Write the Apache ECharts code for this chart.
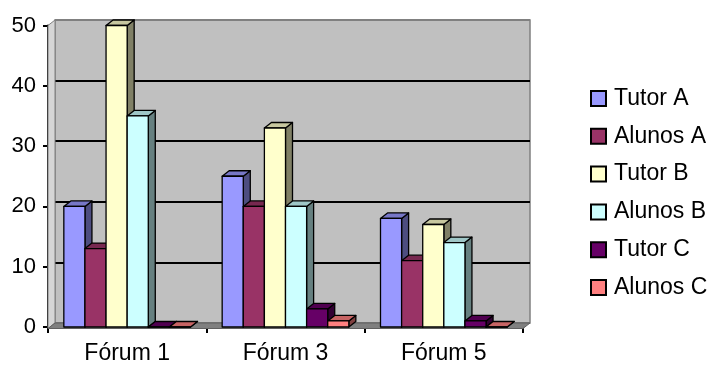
<!DOCTYPE html>
<html>
<head>
<meta charset="utf-8">
<script src="https://cdn.jsdelivr.net/npm/echarts@6/dist/echarts.min.js"></script>
<style>
html,body{margin:0;padding:0;background:#fff;}
#chart{width:712px;height:365px;}
</style>
</head>
<body>
<div id="chart"></div>
<script>
// Forum participation counts
var categories = ['Fórum 1', 'Fórum 3', 'Fórum 5'];
var seriesNames = ['Tutor A', 'Alunos A', 'Tutor B', 'Alunos B', 'Tutor C', 'Alunos C'];
var tutorA = [20, 25, 18];
var alunosA = [13, 20, 11];
var tutorB = [50, 33, 17];
var alunosB = [35, 20, 14];
var tutorC = [0, 3, 1];
var alunosC = [0, 1, 0];
var yTicks = [0, 10, 20, 30, 40, 50];

var seriesValues = [tutorA, alunosA, tutorB, alunosB, tutorC, alunosC];
var colors = ['#9999FF', '#993366', '#FFFFCC', '#CCFFFF', '#660066', '#FF8080'];

var FONT = 'Liberation Sans, Arial, sans-serif';
var DX = 7, DY = 5.5;            // depth offset of the 3D effect
var GROUP_RATIO = 0.8;           // share of a category taken by the cluster

function shade(hex, f) {
  var n = parseInt(hex.slice(1), 16);
  var r = Math.round(((n >> 16) & 255) * f);
  var g = Math.round(((n >> 8) & 255) * f);
  var b = Math.round((n & 255) * f);
  return 'rgb(' + r + ',' + g + ',' + b + ')';
}

function makeRender(sIdx, color) {
  return function (params, api) {
    var cat = api.value(0);
    var top = api.coord([cat, api.value(1)]);
    var base = api.coord([cat, 0]);
    var catW = api.size([1, 0])[0];
    var groupW = catW * GROUP_RATIO;
    var barW = groupW / seriesNames.length;
    var x0 = base[0] - groupW / 2 + sIdx * barW;
    var x1 = x0 + barW;
    var yt = top[1], yb = base[1];
    var stroke = {stroke: '#000', lineWidth: 1.3, lineJoin: 'round'};
    return {
      type: 'group',
      children: [
        {type: 'polygon', shape: {points: [[x1, yt], [x1 + DX, yt - DY], [x1 + DX, yb - DY], [x1, yb]]},
         style: Object.assign({fill: shade(color, 0.5)}, stroke)},
        {type: 'polygon', shape: {points: [[x0, yt], [x0 + DX, yt - DY], [x1 + DX, yt - DY], [x1, yt]]},
         style: Object.assign({fill: shade(color, 0.78)}, stroke)},
        {type: 'rect', shape: {x: x0, y: yt, width: barW, height: yb - yt},
         style: Object.assign({fill: color}, stroke)}
      ]
    };
  };
}

var series = seriesNames.map(function (name, i) {
  return {
    type: 'custom',
    name: name,
    xAxisIndex: 1,
    yAxisIndex: 1,
    itemStyle: {color: colors[i]},
    encode: {x: 0, y: 1},
    data: seriesValues[i].map(function (v, c) { return [c, v]; }),
    renderItem: makeRender(i, colors[i]),
    z: 5
  };
});

var chart = echarts.init(document.getElementById('chart'), null, {renderer: 'canvas'});
chart.setOption({
  animation: false,
  backgroundColor: '#fff',
  textStyle: {fontFamily: FONT},
  grid: [
    // back wall
    {left: 55, top: 20, width: 475, height: 303, show: true,
     backgroundColor: '#C0C0C0', borderColor: '#808080', borderWidth: 1.5},
    // front plane carrying the axes
    {left: 48, top: 25.5, width: 475, height: 303}
  ],
  graphic: [
    {type: 'polygon', z: 1, shape: {points: [[48, 25.5], [55, 20], [55, 323], [48, 328.5]]},
     style: {fill: '#D6D6D6', stroke: '#808080', lineWidth: 1}},
    {type: 'polygon', z: 1, shape: {points: [[48, 328.5], [55, 323], [530, 323], [523, 328.5]]},
     style: {fill: '#808080', stroke: '#606060', lineWidth: 1}}
  ],
  legend: {
    orient: 'vertical',
    left: 590,
    top: 87,
    padding: 0,
    icon: 'rect',
    itemWidth: 15,
    itemHeight: 15,
    itemGap: 14.8,
    itemStyle: {borderColor: '#000', borderWidth: 2},
    textStyle: {fontSize: 23, color: '#000', fontFamily: FONT, padding: [0, 0, 0, 3]},
    data: seriesNames
  },
  xAxis: [
    {gridIndex: 0, type: 'category', data: categories, show: false},
    {gridIndex: 1, type: 'category', data: categories,
     axisLine: {show: true, lineStyle: {color: '#000', width: 2}},
     axisTick: {show: true, length: 6, lineStyle: {color: '#000', width: 2}},
     axisLabel: {fontSize: 23, color: '#000', fontFamily: FONT, margin: 15},
     splitLine: {show: false}}
  ],
  yAxis: [
    {gridIndex: 0, type: 'value', min: 0, max: 50, interval: 10,
     axisLine: {show: false}, axisTick: {show: false}, axisLabel: {show: false},
     splitLine: {show: true, lineStyle: {color: ['#808080', '#000', '#000', '#000', '#000', '#808080'], width: 2}}},
    {gridIndex: 1, type: 'value', min: yTicks[0], max: yTicks[yTicks.length - 1], interval: 10,
     axisLine: {show: true, lineStyle: {color: '#000', width: 2}},
     axisTick: {show: true, length: 5, lineStyle: {color: '#000', width: 2}},
     axisLabel: {fontSize: 22, color: '#000', fontFamily: FONT, margin: 12},
     splitLine: {show: false}}
  ],
  series: series
});
</script>
</body>
</html>
